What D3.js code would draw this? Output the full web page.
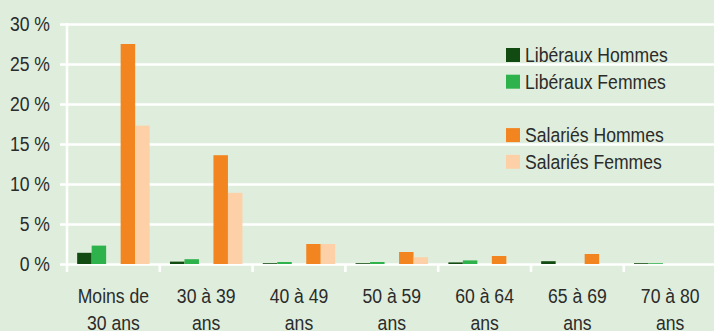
<!DOCTYPE html>
<html>
<head>
<meta charset="utf-8">
<script src="https://cdn.jsdelivr.net/npm/d3@7"></script>
<style>
  html, body { margin: 0; padding: 0; background: #dfeedc; }
  svg { display: block; }
  text { font-family: "Liberation Sans", Arial, sans-serif; fill: #2b2b2b; }
</style>
</head>
<body>
<svg id="chart" width="714" height="331"></svg>
<script>
// Age brackets (two-line labels)
const categories = ["Moins de|30 ans", "30 à 39|ans", "40 à 49|ans", "50 à 59|ans", "60 à 64|ans", "65 à 69|ans", "70 à 80|ans"];

// Share of each population per age bracket, in %
const liberauxHommes = [1.4, 0.3, 0.1, 0.1, 0.2, 0.35, 0.1];
const liberauxFemmes = [2.3, 0.6, 0.25, 0.25, 0.45, 0, 0.1];
const salariesHommes = [27.5, 13.6, 2.5, 1.5, 1.0, 1.25, 0];
const salariesFemmes = [17.3, 8.9, 2.5, 0.85, 0, 0, 0];

const yTicks = [0, 5, 10, 15, 20, 25, 30];

const seriesNames = ["Libéraux Hommes", "Libéraux Femmes", "", "Salariés Hommes", "Salariés Femmes"];
const seriesValues = [liberauxHommes, liberauxFemmes, null, salariesHommes, salariesFemmes];
const seriesColors = ["#124b12", "#2eb24b", null, "#f38520", "#fdd0a8"];

const svg = d3.select("#chart");
const left = 67, step = 92.8, bottomY = 264, topY = 24;
const fontSize = "17.6px";
const textScale = 1.15;

const x = d3.scaleBand()
  .domain(categories)
  .range([left, left + step * categories.length])
  .paddingInner(0.219)
  .paddingOuter(0.1095);

const slot = d3.scaleBand()
  .domain(d3.range(seriesNames.length))
  .range([0, x.bandwidth()])
  .padding(0);

const y = d3.scaleLinear().domain([0, 30]).range([bottomY, topY]);

// Horizontal gridlines with left tick labels
const yAxis = svg.append("g")
  .attr("transform", `translate(${left},0)`)
  .call(d3.axisLeft(y).tickValues(yTicks).tickSize(7).tickFormat(d => d + " %"));
yAxis.select(".domain").remove();
yAxis.selectAll(".tick line")
  .attr("x1", -7).attr("x2", 714 - left)
  .attr("stroke", "#fff").attr("stroke-width", 2.6);
yAxis.selectAll(".tick text")
  .attr("x", -17).attr("dy", "0.34em")
  .attr("transform", `scale(1,${textScale})`)
  .style("font-size", fontSize);

// Vertical axis line
svg.append("line")
  .attr("x1", left).attr("x2", left)
  .attr("y1", y(30) - 1).attr("y2", bottomY + 8)
  .attr("stroke", "#fff").attr("stroke-width", 2.6);

// Category boundary ticks
svg.append("g").selectAll("line")
  .data(categories.slice(1))
  .join("line")
  .attr("x1", d => x(d) - x.step() * x.paddingInner() / 2)
  .attr("x2", d => x(d) - x.step() * x.paddingInner() / 2)
  .attr("y1", bottomY).attr("y2", bottomY + 8)
  .attr("stroke", "#fff").attr("stroke-width", 2.6);

// Bars
seriesValues.forEach((vals, si) => {
  if (!vals) return;
  svg.append("g").selectAll("rect")
    .data(vals.map((v, i) => ({ cat: categories[i], v })))
    .join("rect")
    .attr("x", d => x(d.cat) + slot(si))
    .attr("width", slot.bandwidth())
    .attr("y", d => y(d.v))
    .attr("height", d => bottomY - y(d.v))
    .attr("fill", seriesColors[si]);
});

// Category labels
const xAxis = svg.append("g")
  .attr("transform", `translate(0,${bottomY})`)
  .call(d3.axisBottom(x).tickSize(0).tickFormat(""));
xAxis.select(".domain").remove();
xAxis.selectAll(".tick").each(function (d) {
  const t = d3.select(this).append("text")
    .attr("text-anchor", "middle")
    .attr("transform", `translate(0,39.3) scale(1,${textScale})`)
    .style("font-size", fontSize);
  d.split("|").forEach((line, i) => {
    t.append("tspan").attr("x", 0).attr("y", i * 23.2).text(line);
  });
});

// Legend
const legend = svg.append("g");
const rowY = d3.scaleLinear().domain([0, 1]).range([62, 88.7]);
seriesNames.forEach((name, i) => {
  if (!name) return;
  const g = legend.append("g").attr("transform", `translate(0,${rowY(i)})`);
  g.append("rect")
    .attr("x", 506).attr("y", -14).attr("width", 14).attr("height", 14)
    .attr("fill", seriesColors[i]);
  g.append("text")
    .attr("transform", `translate(525,0) scale(1,${textScale})`)
    .style("font-size", fontSize)
    .text(name);
});
</script>
</body>
</html>
